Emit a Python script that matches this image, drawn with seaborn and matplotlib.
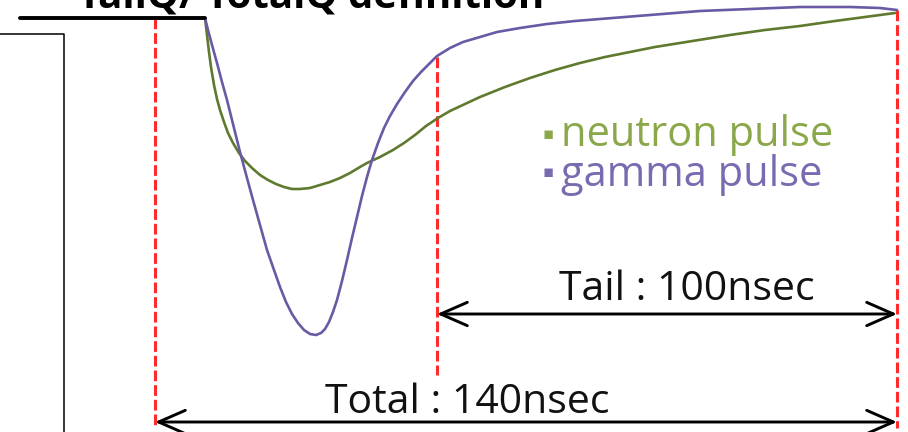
import matplotlib
matplotlib.use("Agg")
import matplotlib.pyplot as plt
import seaborn as sns
import pandas as pd

# pulse shapes (x = time in picture units, y = depth, grows downward)
gamma_x = [205, 208, 212, 217, 222, 227, 233, 240, 247, 253, 260, 267, 274, 280, 286, 292,
           298, 304, 310, 316, 321, 325, 329, 333, 337, 342, 347, 352, 357, 362, 367, 372,
           378, 384, 390, 397, 405, 413, 421, 429, 437, 450, 463, 480, 497, 520, 547, 575,
           600, 650, 700, 750, 800, 850, 880, 897]
gamma_y = [18, 30, 45, 63, 82, 100, 124, 152, 178, 200, 225, 250, 270, 287, 302, 314,
           323, 330, 334, 335, 333, 329, 322, 312, 300, 281, 260, 238, 217, 196, 177, 160,
           143, 128, 116, 104, 92, 81, 72, 64, 56, 48, 42, 37, 32, 28, 24, 21,
           19, 15, 11, 9, 7, 7, 8, 10]

neutron_x = [205, 207, 209, 211, 214, 217, 220, 224, 228, 233, 239, 245, 252, 260, 268, 276,
             284, 292, 300, 310, 320, 330, 340, 350, 360, 367, 380, 393, 404, 415, 426, 438,
             450, 465, 480, 505, 530, 555, 580, 605, 630, 655, 680, 705, 730, 765, 800, 835,
             865, 895]
neutron_y = [18, 35, 52, 67, 85, 99, 110, 122, 133, 143, 153, 161, 168, 175, 180, 184,
             187, 189, 189, 188, 185, 182, 178, 173, 167, 163, 157, 150, 143, 135, 126, 118,
             111, 104, 97, 87, 78, 70, 63, 57, 52, 47, 43, 39, 35, 30, 26, 21,
             17, 13]

baseline_x = [20, 205]
baseline_y = [18, 18]

# integration window marks
gate_x = [155, 437, 897]
gate_top = [18, 57, 10]
gate_bottom = [425, 375, 428]

tail_span = (437, 897)
total_span = (155, 897)
tail_label = "Tail : 100nsec"
total_label = "Total : 140nsec"
title = "TailQ/ TotalQ definition"
legend_labels = ["neutron pulse", "gamma pulse"]

green = "#5f7a2e"
purple = "#6a5aa6"
green_txt = "#8aa84a"
purple_txt = "#7a6ab0"

sns.set_theme(style="white")
plt.rcParams["font.family"] = ["Open Sans", "DejaVu Sans"]

fig = plt.figure(figsize=(9.08, 4.32), dpi=100)
ax = fig.add_axes([0, 0, 1, 1])
ax.set_xlim(0, 908)
ax.set_ylim(432, 0)
ax.axis("off")

df = pd.concat([
    pd.DataFrame({"x": neutron_x, "y": neutron_y, "pulse": "neutron"}),
    pd.DataFrame({"x": gamma_x, "y": gamma_y, "pulse": "gamma"}),
])
sns.lineplot(data=df, x="x", y="y", hue="pulse", palette={"neutron": green, "gamma": purple},
             sort=False, estimator=None, linewidth=1.9, legend=False, ax=ax)
sns.lineplot(x=baseline_x, y=baseline_y, color="black", linewidth=2.8, ax=ax)

for gx, t, b in zip(gate_x, gate_top, gate_bottom):
    ax.plot([gx, gx], [t, b], color="#ff2a2a", linewidth=2.2, dashes=(3.5, 1.3), zorder=1)

# left frame
ax.plot([0, 64, 64], [34, 34, 432], color="black", linewidth=1.1)

arrow = dict(arrowstyle="<->,head_length=1.6,head_width=0.7", color="black", lw=2.1,
             shrinkA=0, shrinkB=0)
ax.annotate("", xy=(tail_span[0], 314), xytext=(tail_span[1], 314), arrowprops=arrow)
ax.annotate("", xy=(total_span[0], 422), xytext=(total_span[1], 422), arrowprops=arrow)

ax.text(687, 290, tail_label, fontsize=29.5, ha="center", va="center", color="#111111")
ax.text(467, 403, total_label, fontsize=29.5, ha="center", va="center", color="#111111")

ax.text(548, 135, "\u25aa", fontsize=12, ha="center", va="center", color=green_txt)
ax.text(561, 135, legend_labels[0], fontsize=30, ha="left", va="center", color=green_txt)
ax.text(548, 173, "\u25aa", fontsize=12, ha="center", va="center", color=purple_txt)
ax.text(561, 175, legend_labels[1], fontsize=30, ha="left", va="center", color=purple_txt)

ax.text(78, 7, title, fontsize=29, fontweight="bold", ha="left", va="baseline", color="black")

fig.savefig("out.png", dpi=100)
